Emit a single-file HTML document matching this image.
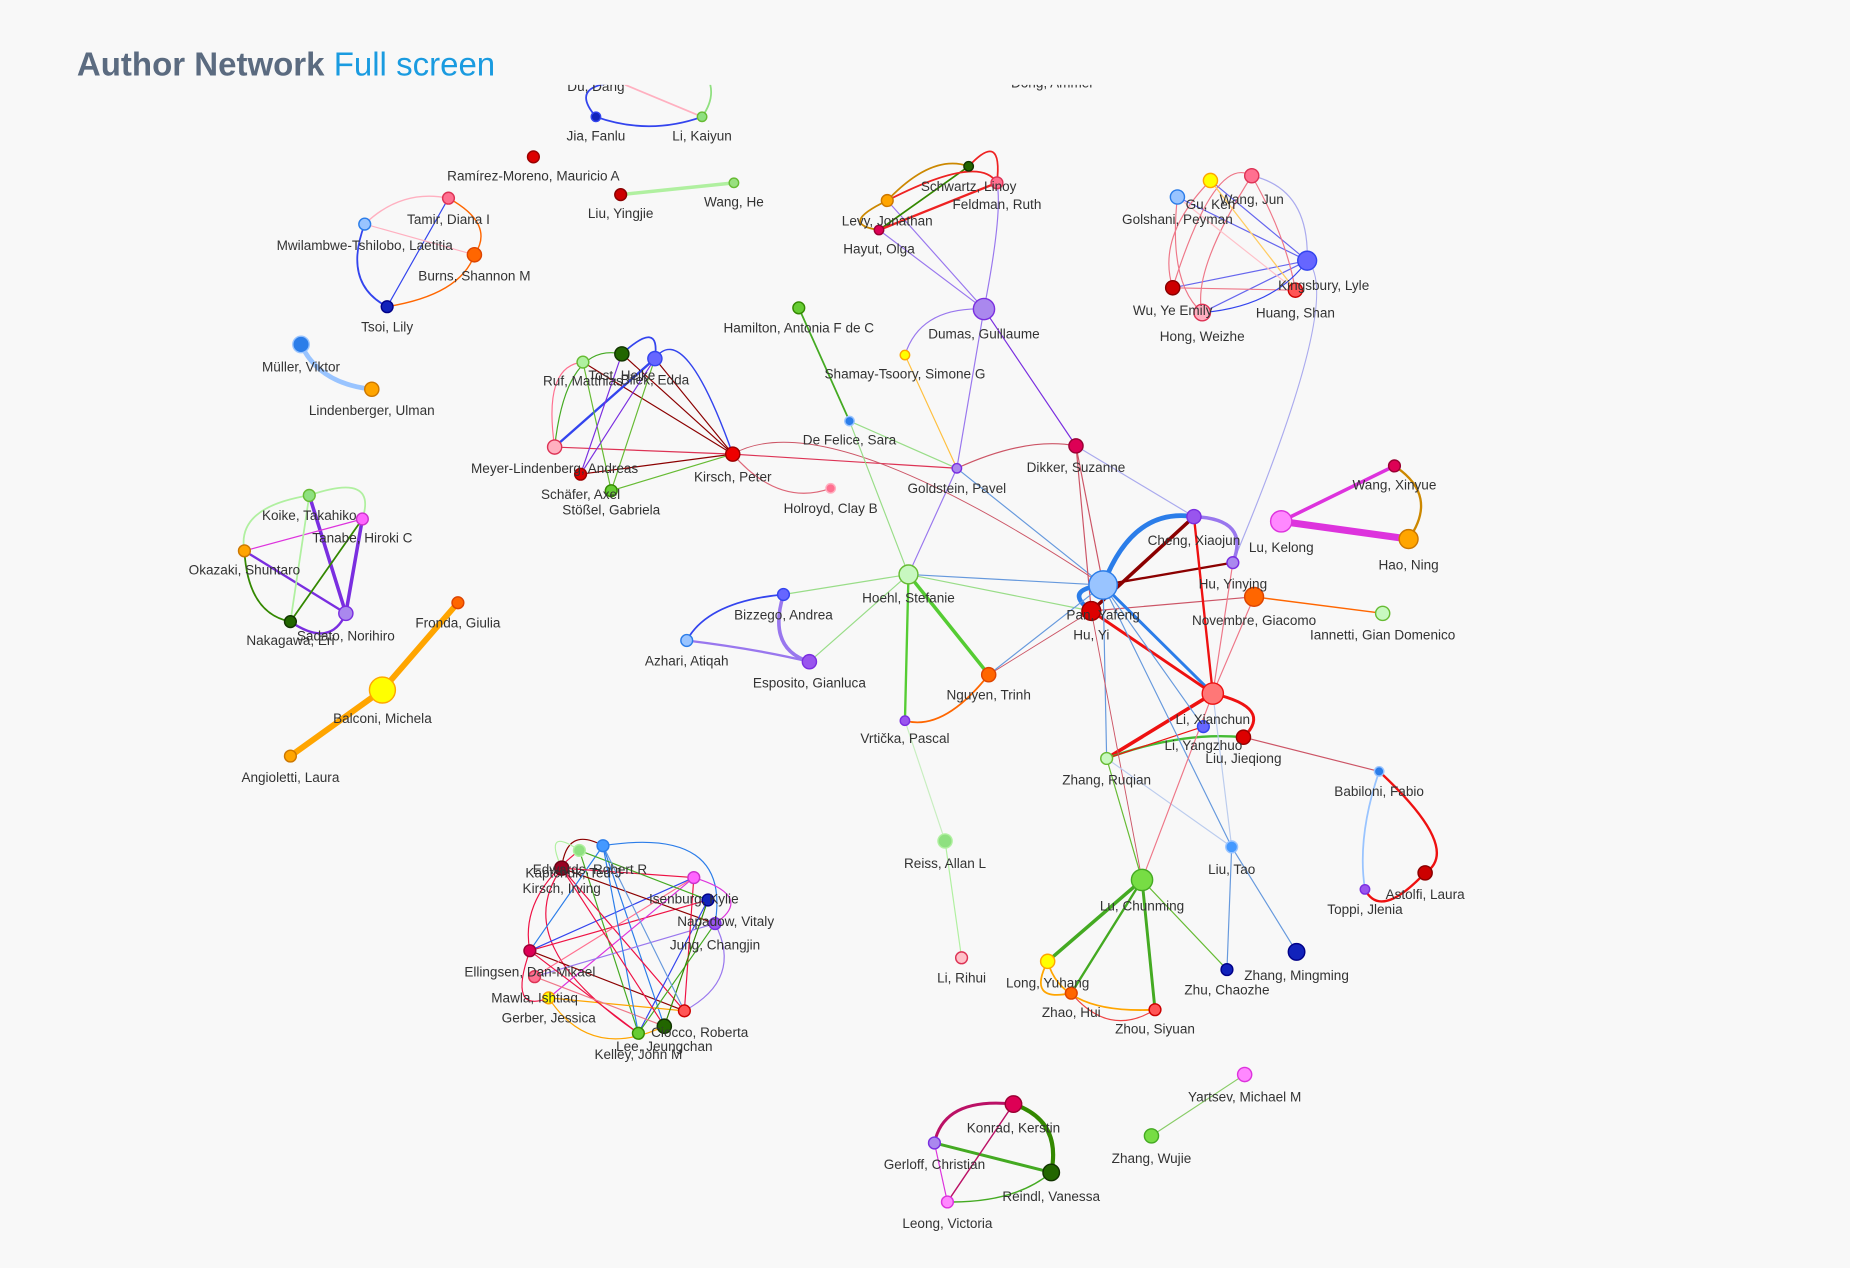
<!DOCTYPE html>
<html><head><meta charset="utf-8"><style>
html,body{margin:0;padding:0;background:#f8f8f8;}
svg{display:block}
text{font-family:"Liberation Sans",sans-serif;font-size:11.5px;fill:#333;text-anchor:middle}
</style></head><body>
<svg width="1850" height="1268" viewBox="0 0 1568 1075" xmlns="http://www.w3.org/2000/svg">
<defs><clipPath id="c"><rect x="0" y="72" width="1568" height="1003"/></clipPath></defs>
<rect width="1568" height="1075" fill="#f8f8f8"/>
<text x="65" y="64" style="font-size:28px;font-weight:bold;fill:#5b6b80;text-anchor:start">Author Network <tspan style="font-weight:normal;fill:#1a9be0">Full screen</tspan></text>
<g clip-path="url(#c)">
<g fill="none" stroke-linecap="round">
<path d="M505,99 Q480,70 530,70" stroke="#3344ee" stroke-width="1.5"/>
<path d="M505,99 Q550,115 595,99" stroke="#3344ee" stroke-width="1.5"/>
<path d="M530,72 L595,99" stroke="#ffb0c0" stroke-width="1.5"/>
<path d="M595,99 Q605,85 602,72" stroke="#90e080" stroke-width="1.5"/>
<path d="M526,165 L622,155" stroke="#b0f0a0" stroke-width="3"/>
<path d="M380,168 Q420,190 402,216" stroke="#ff6600" stroke-width="1.2"/>
<path d="M309,190 Q340,160 380,168" stroke="#ffb0c0" stroke-width="1.2"/>
<path d="M309,190 Q290,240 328,260" stroke="#3344ee" stroke-width="1.5"/>
<path d="M328,260 L380,168" stroke="#3344ee" stroke-width="1"/>
<path d="M328,260 Q390,250 402,216" stroke="#ff6600" stroke-width="1.2"/>
<path d="M309,190 L402,216" stroke="#ffb0c0" stroke-width="1"/>
<path d="M255,292 Q270,325 315,330" stroke="#99c4ff" stroke-width="4"/>
<path d="M262,420 Q320,400 307,440" stroke="#b0f0a0" stroke-width="1.5"/>
<path d="M262,420 Q200,430 207,467" stroke="#b0f0a0" stroke-width="1.5"/>
<path d="M262,420 L293,520" stroke="#7a2ee0" stroke-width="3"/>
<path d="M307,440 L293,520" stroke="#7a2ee0" stroke-width="3"/>
<path d="M207,467 L307,440" stroke="#dd33dd" stroke-width="1"/>
<path d="M207,467 Q210,520 246,527" stroke="#338800" stroke-width="1.5"/>
<path d="M207,467 L293,520" stroke="#7a2ee0" stroke-width="2"/>
<path d="M246,527 L307,440" stroke="#338800" stroke-width="1.5"/>
<path d="M246,527 L262,420" stroke="#b0f0a0" stroke-width="1.5"/>
<path d="M246,527 Q280,550 293,520" stroke="#7a2ee0" stroke-width="2"/>
<path d="M388,511 L324,585 L246,641" stroke="#ffa500" stroke-width="5"/>
<path d="M494,307 L621,385 M527,300 L621,385 M555,304 L621,385" stroke="#8b0000" stroke-width="1"/>
<path d="M555,304 Q560,270 527,300" stroke="#3344ee" stroke-width="1.5"/>
<path d="M470,379 L555,304" stroke="#3344ee" stroke-width="2"/>
<path d="M470,379 Q480,290 527,300" stroke="#44aa22" stroke-width="1"/>
<path d="M470,379 L621,385" stroke="#dd3355" stroke-width="1"/>
<path d="M492,402 L621,385" stroke="#8b0000" stroke-width="1"/>
<path d="M518,416 L555,304 M518,416 L494,307 M518,416 L621,385" stroke="#66bb33" stroke-width="1"/>
<path d="M492,402 L527,300 M492,402 L555,304" stroke="#7a2ee0" stroke-width="1"/>
<path d="M470,379 Q460,310 494,307" stroke="#ff7090" stroke-width="1"/>
<path d="M621,385 Q580,270 555,304" stroke="#3344ee" stroke-width="1.2"/>
<path d="M621,385 L811,397" stroke="#dd3355" stroke-width="1"/>
<path d="M621,385 Q700,340 935,496" stroke="#cc5566" stroke-width="0.8"/>
<path d="M621,385 Q660,430 704,414" stroke="#dd6677" stroke-width="1"/>
<path d="M677,261 L720,357" stroke="#44aa22" stroke-width="1.5"/>
<path d="M720,357 L770,487 M720,357 L811,397" stroke="#99dd88" stroke-width="1"/>
<path d="M767,301 L811,397" stroke="#ffc040" stroke-width="1"/>
<path d="M811,397 L834,262 M811,397 L770,487" stroke="#9977ee" stroke-width="1"/>
<path d="M811,397 L935,496" stroke="#6699dd" stroke-width="1"/>
<path d="M811,397 Q870,370 912,378" stroke="#cc5566" stroke-width="1"/>
<path d="M834,262 L752,170 M834,262 L745,195 M834,262 Q850,180 845,155" stroke="#9977ee" stroke-width="1"/>
<path d="M834,262 Q780,260 767,301" stroke="#9977ee" stroke-width="1"/>
<path d="M834,262 L912,378" stroke="#7a2ee0" stroke-width="1"/>
<path d="M752,170 Q790,130 821,141" stroke="#cc8800" stroke-width="1.5"/>
<path d="M745,195 L821,141" stroke="#338800" stroke-width="1.5"/>
<path d="M745,195 L845,155" stroke="#ee2222" stroke-width="2"/>
<path d="M752,170 Q830,130 845,155" stroke="#ee2222" stroke-width="1.5"/>
<path d="M752,170 Q710,190 745,195" stroke="#cc8800" stroke-width="1.5"/>
<path d="M821,141 Q850,110 845,155" stroke="#ee2222" stroke-width="1.5"/>
<path d="M912,378 L935,496 M912,378 L925,518" stroke="#cc5566" stroke-width="1"/>
<path d="M912,378 L1012,438" stroke="#aaaaee" stroke-width="1"/>
<path d="M998,167 L1108,221 M1026,153 L1108,221 M994,244 L1108,221 M1019,265 L1108,221" stroke="#6666ee" stroke-width="1"/>
<path d="M998,167 Q990,240 1019,265 M1026,153 Q980,200 994,244 M1061,149 Q1010,230 1019,265 M1061,149 Q1090,200 1098,246" stroke="#ee7788" stroke-width="1"/>
<path d="M1026,153 L1098,246 M998,167 L1098,246" stroke="#ffc0c8" stroke-width="1"/>
<path d="M1061,149 Q1110,160 1108,221" stroke="#aaaaee" stroke-width="1"/>
<path d="M994,244 L1098,246 M994,244 Q1030,130 1061,149" stroke="#ee7788" stroke-width="1"/>
<path d="M1026,153 L1098,246" stroke="#ffd060" stroke-width="1"/>
<path d="M1019,265 Q1080,260 1108,221" stroke="#3344ee" stroke-width="1"/>
<path d="M1108,221 Q1140,250 1045,477" stroke="#aaaaee" stroke-width="1"/>
<path d="M1086,442 L1182,395" stroke="#dd33dd" stroke-width="3"/>
<path d="M1086,442 L1194,457" stroke="#dd33dd" stroke-width="6"/>
<path d="M1182,395 Q1220,420 1194,457" stroke="#cc8800" stroke-width="2"/>
<path d="M935,496 Q960,430 1012,438" stroke="#2b7de9" stroke-width="4"/>
<path d="M925,518 L1012,438" stroke="#8b0000" stroke-width="3"/>
<path d="M935,496 L1045,477" stroke="#8b0000" stroke-width="2"/>
<path d="M1012,438 Q1060,440 1045,477" stroke="#9977ee" stroke-width="3"/>
<path d="M935,496 Q900,500 925,518" stroke="#2b7de9" stroke-width="4"/>
<path d="M925,518 L1063,506" stroke="#cc5566" stroke-width="1"/>
<path d="M1063,506 L1172,520" stroke="#ff6600" stroke-width="1.2"/>
<path d="M935,496 L1028,588" stroke="#2b7de9" stroke-width="2.5"/>
<path d="M925,518 L1028,588" stroke="#ee1111" stroke-width="2.5"/>
<path d="M1012,438 L1028,588" stroke="#ee1111" stroke-width="2"/>
<path d="M1045,477 L1028,588 M1063,506 L1028,588" stroke="#ee7788" stroke-width="1"/>
<path d="M1028,588 L938,643" stroke="#ee1111" stroke-width="3"/>
<path d="M1028,588 Q1080,600 1054,625" stroke="#ee1111" stroke-width="2.5"/>
<path d="M938,643 Q1000,620 1054,625" stroke="#44bb33" stroke-width="2"/>
<path d="M938,643 L1020,616" stroke="#ee1111" stroke-width="1"/>
<path d="M935,496 L938,643 M935,496 L1044,718 M935,496 L1020,616" stroke="#6699dd" stroke-width="1"/>
<path d="M925,518 L968,746 M925,518 L838,572" stroke="#cc5566" stroke-width="0.8"/>
<path d="M1054,625 L1169,654" stroke="#cc5566" stroke-width="1"/>
<path d="M1169,654 Q1240,720 1208,740 Q1170,780 1157,754" stroke="#ee1111" stroke-width="2"/>
<path d="M1169,654 Q1150,710 1157,754" stroke="#99c4ff" stroke-width="1.5"/>
<path d="M1044,718 L1099,807 M1044,718 L1040,822" stroke="#6699dd" stroke-width="1"/>
<path d="M1044,718 L938,643" stroke="#bbccee" stroke-width="1"/>
<path d="M1028,588 L1044,718" stroke="#bbccee" stroke-width="1"/>
<path d="M1028,588 L968,746" stroke="#ee7788" stroke-width="1"/>
<path d="M938,643 L968,746" stroke="#66bb33" stroke-width="1"/>
<path d="M968,746 L888,815" stroke="#44aa22" stroke-width="3"/>
<path d="M968,746 L979,856" stroke="#44aa22" stroke-width="2.5"/>
<path d="M968,746 L908,842" stroke="#44aa22" stroke-width="2"/>
<path d="M968,746 L1040,822" stroke="#66bb33" stroke-width="1"/>
<path d="M888,815 Q900,860 979,856" stroke="#ffa500" stroke-width="1.5"/>
<path d="M888,815 Q870,850 908,842" stroke="#ffa500" stroke-width="1.5"/>
<path d="M908,842 Q940,880 979,856" stroke="#ee4444" stroke-width="1"/>
<path d="M770,487 L935,496" stroke="#6699dd" stroke-width="1"/>
<path d="M770,487 L925,518 M770,487 L664,504 M770,487 L686,561" stroke="#99dd88" stroke-width="1"/>
<path d="M770,487 L838,572" stroke="#55cc33" stroke-width="3"/>
<path d="M770,487 L767,611" stroke="#55cc33" stroke-width="2"/>
<path d="M664,504 Q600,510 582,543" stroke="#3344ee" stroke-width="1.5"/>
<path d="M582,543 Q640,550 686,561" stroke="#9977ee" stroke-width="2"/>
<path d="M664,504 Q650,550 686,561" stroke="#9977ee" stroke-width="3"/>
<path d="M838,572 Q800,620 767,611" stroke="#ff6600" stroke-width="1.5"/>
<path d="M838,572 L935,496" stroke="#6699dd" stroke-width="1"/>
<path d="M767,611 L801,713" stroke="#c8eec0" stroke-width="1"/>
<path d="M801,713 L815,812" stroke="#b0f0a0" stroke-width="1"/>
<g stroke-width="1">
<path d="M476,736 Q430,800 541,876" stroke="#ee1144"/>
<path d="M449,806 L600,763" stroke="#ee1144"/>
<path d="M449,806 L588,744" stroke="#3344ee"/>
<path d="M449,806 L580,857" stroke="#8b0000"/>
<path d="M491,721 L541,876" stroke="#44aa22"/>
<path d="M511,717 L563,870" stroke="#2b7de9"/>
<path d="M511,717 Q620,700 606,783" stroke="#2b7de9"/>
<path d="M476,736 L606,783" stroke="#8b0000"/>
<path d="M476,736 L580,857" stroke="#ee1144"/>
<path d="M588,744 L465,846" stroke="#dd33dd"/>
<path d="M600,763 L541,876" stroke="#3344ee"/>
<path d="M606,783 L453,828" stroke="#9977ee"/>
<path d="M465,846 L580,857" stroke="#ffa500"/>
<path d="M465,846 Q500,900 563,870" stroke="#ffa500"/>
<path d="M453,828 L588,744" stroke="#ff7090"/>
<path d="M491,721 Q440,760 449,806" stroke="#ee1144"/>
<path d="M511,717 L449,806" stroke="#2b7de9"/>
<path d="M580,857 L588,744" stroke="#ee1144"/>
<path d="M541,876 L606,783" stroke="#44aa22"/>
<path d="M563,870 L600,763" stroke="#338800"/>
<path d="M476,736 L588,744" stroke="#ee1144"/>
<path d="M491,721 L600,763" stroke="#44aa22"/>
<path d="M449,806 L541,876" stroke="#ee1144"/>
<path d="M453,828 L563,870" stroke="#ee7788"/>
<path d="M511,717 L541,876" stroke="#2b7de9"/>
<path d="M476,736 Q480,700 511,717" stroke="#8b0000"/>
<path d="M606,783 Q630,830 580,857" stroke="#9977ee"/>
<path d="M588,744 Q640,760 606,783" stroke="#dd33dd"/>
<path d="M491,721 Q460,700 476,736" stroke="#b0f0a0"/>
<path d="M449,806 Q430,860 465,846" stroke="#ee1144"/>
<path d="M476,736 L563,870" stroke="#ee1144"/>
<path d="M511,717 L580,857" stroke="#6699dd"/>
</g>
<path d="M792,969 Q800,930 859,936" stroke="#bb1166" stroke-width="2.5"/>
<path d="M859,936 Q900,950 891,994" stroke="#338800" stroke-width="3.5"/>
<path d="M792,969 L891,994" stroke="#44aa22" stroke-width="2.5"/>
<path d="M803,1019 L859,936" stroke="#bb1166" stroke-width="1.2"/>
<path d="M803,1019 Q860,1020 891,994" stroke="#44aa22" stroke-width="1.2"/>
<path d="M792,969 L803,1019" stroke="#dd33dd" stroke-width="1"/>
<path d="M976,963 L1055,911" stroke="#88cc66" stroke-width="1"/>
</g>
<g stroke-width="1.2">
<circle cx="505" cy="99" r="4" fill="#1122bb" stroke="#3344ee"/>
<circle cx="595" cy="99" r="4" fill="#8ee080" stroke="#66bb33"/>
<circle cx="452" cy="133" r="5" fill="#dd0000" stroke="#990000"/>
<circle cx="526" cy="165" r="5" fill="#cc0000" stroke="#880000"/>
<circle cx="622" cy="155" r="4" fill="#99e080" stroke="#66bb33"/>
<circle cx="380" cy="168" r="5" fill="#ff7090" stroke="#dd3355"/>
<circle cx="309" cy="190" r="5" fill="#99c4ff" stroke="#2b7de9"/>
<circle cx="402" cy="216" r="6" fill="#ff6600" stroke="#dd4400"/>
<circle cx="328" cy="260" r="5" fill="#1122bb" stroke="#000088"/>
<circle cx="255" cy="292" r="7" fill="#2b7de9" stroke="#99c4ff"/>
<circle cx="315" cy="330" r="6" fill="#ffa500" stroke="#cc7700"/>
<circle cx="262" cy="420" r="5" fill="#8ee080" stroke="#66bb33"/>
<circle cx="307" cy="440" r="5" fill="#ff66ff" stroke="#cc33cc"/>
<circle cx="207" cy="467" r="5" fill="#ffa500" stroke="#cc7700"/>
<circle cx="246" cy="527" r="5" fill="#226600" stroke="#113300"/>
<circle cx="293" cy="520" r="6" fill="#aa88ee" stroke="#7a2ee0"/>
<circle cx="388" cy="511" r="5" fill="#ff6600" stroke="#dd4400"/>
<circle cx="324" cy="585" r="11" fill="#ffff00" stroke="#ffa500"/>
<circle cx="246" cy="641" r="5" fill="#ffa500" stroke="#cc7700"/>
<circle cx="494" cy="307" r="5" fill="#b0f0a0" stroke="#66bb33"/>
<circle cx="527" cy="300" r="6" fill="#226600" stroke="#113300"/>
<circle cx="555" cy="304" r="6" fill="#6666ff" stroke="#3344ee"/>
<circle cx="470" cy="379" r="6" fill="#ffb0c0" stroke="#dd3355"/>
<circle cx="492" cy="402" r="5" fill="#dd0000" stroke="#990000"/>
<circle cx="518" cy="416" r="5" fill="#66cc33" stroke="#338800"/>
<circle cx="621" cy="385" r="6" fill="#ee0000" stroke="#990000"/>
<circle cx="677" cy="261" r="5" fill="#66cc33" stroke="#338800"/>
<circle cx="720" cy="357" r="4" fill="#2b7de9" stroke="#99c4ff"/>
<circle cx="704" cy="414" r="4" fill="#ff7090" stroke="#ffb0c0"/>
<circle cx="811" cy="397" r="4" fill="#aa88ee" stroke="#7a2ee0"/>
<circle cx="767" cy="301" r="4" fill="#ffff00" stroke="#ffa500"/>
<circle cx="821" cy="141" r="4" fill="#226600" stroke="#113300"/>
<circle cx="845" cy="155" r="5" fill="#ff7090" stroke="#dd3355"/>
<circle cx="752" cy="170" r="5" fill="#ffa500" stroke="#cc7700"/>
<circle cx="745" cy="195" r="4" fill="#dd0055" stroke="#990033"/>
<circle cx="834" cy="262" r="9" fill="#aa88ee" stroke="#7a2ee0"/>
<circle cx="998" cy="167" r="6" fill="#99c4ff" stroke="#2b7de9"/>
<circle cx="1026" cy="153" r="6" fill="#ffff00" stroke="#ffa500"/>
<circle cx="1061" cy="149" r="6" fill="#ff7090" stroke="#dd3355"/>
<circle cx="1108" cy="221" r="8" fill="#6666ff" stroke="#3344ee"/>
<circle cx="994" cy="244" r="6" fill="#cc0000" stroke="#880000"/>
<circle cx="1019" cy="265" r="7" fill="#ffb0c0" stroke="#dd3355"/>
<circle cx="1098" cy="246" r="6" fill="#ff5555" stroke="#cc0000"/>
<circle cx="912" cy="378" r="6" fill="#dd0055" stroke="#990033"/>
<circle cx="1012" cy="438" r="6" fill="#9955ee" stroke="#7a2ee0"/>
<circle cx="1086" cy="442" r="9" fill="#ff88ff" stroke="#dd33dd"/>
<circle cx="1182" cy="395" r="5" fill="#dd0055" stroke="#990033"/>
<circle cx="1194" cy="457" r="8" fill="#ffa500" stroke="#cc7700"/>
<circle cx="1045" cy="477" r="5" fill="#aa88ee" stroke="#7a2ee0"/>
<circle cx="1063" cy="506" r="8" fill="#ff6600" stroke="#dd4400"/>
<circle cx="1172" cy="520" r="6" fill="#c8f8c0" stroke="#66bb33"/>
<circle cx="935" cy="496" r="12" fill="#99c4ff" stroke="#2b7de9"/>
<circle cx="925" cy="518" r="8" fill="#dd0000" stroke="#990000"/>
<circle cx="770" cy="487" r="8" fill="#c8f8c0" stroke="#66bb33"/>
<circle cx="664" cy="504" r="5" fill="#6666ff" stroke="#3344ee"/>
<circle cx="582" cy="543" r="5" fill="#99c4ff" stroke="#2b7de9"/>
<circle cx="686" cy="561" r="6" fill="#9955ee" stroke="#7a2ee0"/>
<circle cx="838" cy="572" r="6" fill="#ff6600" stroke="#dd4400"/>
<circle cx="767" cy="611" r="4" fill="#9955ee" stroke="#7a2ee0"/>
<circle cx="1028" cy="588" r="9" fill="#ff7777" stroke="#ee1111"/>
<circle cx="1020" cy="616" r="5" fill="#6666ff" stroke="#3344ee"/>
<circle cx="1054" cy="625" r="6" fill="#dd0000" stroke="#990000"/>
<circle cx="938" cy="643" r="5" fill="#c8f8c0" stroke="#66bb33"/>
<circle cx="1169" cy="654" r="4" fill="#2b7de9" stroke="#99c4ff"/>
<circle cx="1157" cy="754" r="4" fill="#9955ee" stroke="#7a2ee0"/>
<circle cx="1208" cy="740" r="6" fill="#cc0000" stroke="#880000"/>
<circle cx="1044" cy="718" r="5" fill="#4499ff" stroke="#99c4ff"/>
<circle cx="1099" cy="807" r="7" fill="#1122bb" stroke="#000088"/>
<circle cx="1040" cy="822" r="5" fill="#1122bb" stroke="#000088"/>
<circle cx="968" cy="746" r="9" fill="#77dd44" stroke="#44aa22"/>
<circle cx="888" cy="815" r="6" fill="#ffff00" stroke="#ffa500"/>
<circle cx="908" cy="842" r="5" fill="#ff6600" stroke="#dd4400"/>
<circle cx="979" cy="856" r="5" fill="#ff5555" stroke="#cc0000"/>
<circle cx="801" cy="713" r="6" fill="#8ee080" stroke="#b0f0a0"/>
<circle cx="815" cy="812" r="5" fill="#ffc0c8" stroke="#dd3355"/>
<circle cx="491" cy="721" r="5" fill="#8ee080" stroke="#b0f0a0"/>
<circle cx="476" cy="736" r="6" fill="#990022" stroke="#660011"/>
<circle cx="511" cy="717" r="5" fill="#4499ff" stroke="#2b7de9"/>
<circle cx="588" cy="744" r="5" fill="#ff66ff" stroke="#cc33cc"/>
<circle cx="600" cy="763" r="5" fill="#1122bb" stroke="#000088"/>
<circle cx="606" cy="783" r="5" fill="#9955ee" stroke="#7a2ee0"/>
<circle cx="449" cy="806" r="5" fill="#dd0055" stroke="#990033"/>
<circle cx="453" cy="828" r="5" fill="#ff7090" stroke="#dd3355"/>
<circle cx="465" cy="846" r="5" fill="#ffff00" stroke="#ffa500"/>
<circle cx="541" cy="876" r="5" fill="#66cc33" stroke="#338800"/>
<circle cx="563" cy="870" r="6" fill="#226600" stroke="#113300"/>
<circle cx="580" cy="857" r="5" fill="#ff5555" stroke="#cc0000"/>
<circle cx="859" cy="936" r="7" fill="#dd0055" stroke="#990033"/>
<circle cx="792" cy="969" r="5" fill="#aa88ee" stroke="#7a2ee0"/>
<circle cx="891" cy="994" r="7" fill="#226600" stroke="#113300"/>
<circle cx="803" cy="1019" r="5" fill="#ff88ff" stroke="#dd33dd"/>
<circle cx="1055" cy="911" r="6" fill="#ff88ff" stroke="#dd33dd"/>
<circle cx="976" cy="963" r="6" fill="#77dd44" stroke="#44aa22"/>
</g>
<g>
<text x="505" y="77">Du, Dang</text><text x="892" y="74">Dong, Ammer</text>
<text x="505" y="119">Jia, Fanlu</text><text x="595" y="119">Li, Kaiyun</text>
<text x="452" y="153">Ramírez-Moreno, Mauricio A</text>
<text x="526" y="185">Liu, Yingjie</text><text x="622" y="175">Wang, He</text>
<text x="380" y="190">Tamir, Diana I</text><text x="309" y="212">Mwilambwe-Tshilobo, Laetitia</text>
<text x="402" y="238">Burns, Shannon M</text><text x="328" y="281">Tsoi, Lily</text>
<text x="255" y="315">Müller, Viktor</text><text x="315" y="352">Lindenberger, Ulman</text>
<text x="262" y="441">Koike, Takahiko</text><text x="307" y="460">Tanabe, Hiroki C</text>
<text x="207" y="487">Okazaki, Shuntaro</text><text x="246" y="547">Nakagawa, Eri</text><text x="293" y="543">Sadato, Norihiro</text>
<text x="388" y="532">Fronda, Giulia</text><text x="324" y="613">Balconi, Michela</text><text x="246" y="663">Angioletti, Laura</text>
<text x="494" y="327">Ruf, Matthias</text><text x="527" y="322">Tost, Heike</text><text x="555" y="326">Bilek, Edda</text>
<text x="470" y="401">Meyer-Lindenberg, Andreas</text><text x="492" y="423">Schäfer, Axel</text><text x="518" y="436">Stößel, Gabriela</text>
<text x="621" y="408">Kirsch, Peter</text>
<text x="677" y="282">Hamilton, Antonia F de C</text><text x="720" y="377">De Felice, Sara</text>
<text x="704" y="435">Holroyd, Clay B</text><text x="811" y="418">Goldstein, Pavel</text><text x="767" y="321">Shamay-Tsoory, Simone G</text>
<text x="821" y="162">Schwartz, Linoy</text><text x="845" y="177">Feldman, Ruth</text><text x="752" y="191">Levy, Jonathan</text>
<text x="745" y="215">Hayut, Olga</text><text x="834" y="287">Dumas, Guillaume</text>
<text x="998" y="190">Golshani, Peyman</text><text x="1026" y="177">Gu, Ken</text><text x="1061" y="173">Wang, Jun</text>
<text x="1122" y="246">Kingsbury, Lyle</text><text x="994" y="267">Wu, Ye Emily</text><text x="1019" y="289">Hong, Weizhe</text><text x="1098" y="269">Huang, Shan</text>
<text x="912" y="400">Dikker, Suzanne</text>
<text x="1012" y="462">Cheng, Xiaojun</text><text x="1086" y="468">Lu, Kelong</text><text x="1182" y="415">Wang, Xinyue</text><text x="1194" y="483">Hao, Ning</text>
<text x="1045" y="499">Hu, Yinying</text><text x="1063" y="530">Novembre, Giacomo</text><text x="1172" y="542">Iannetti, Gian Domenico</text>
<text x="935" y="525">Pan, Yafeng</text><text x="925" y="542">Hu, Yi</text>
<text x="770" y="511">Hoehl, Stefanie</text><text x="664" y="525">Bizzego, Andrea</text><text x="582" y="564">Azhari, Atiqah</text>
<text x="686" y="583">Esposito, Gianluca</text><text x="838" y="593">Nguyen, Trinh</text><text x="767" y="630">Vrtička, Pascal</text>
<text x="1028" y="614">Li, Xianchun</text><text x="1020" y="636">Li, Yangzhuo</text><text x="1054" y="647">Liu, Jieqiong</text><text x="938" y="665">Zhang, Ruqian</text>
<text x="1169" y="675">Babiloni, Fabio</text><text x="1157" y="775">Toppi, Jlenia</text><text x="1208" y="762">Astolfi, Laura</text>
<text x="1044" y="741">Liu, Tao</text><text x="1099" y="831">Zhang, Mingming</text><text x="1040" y="843">Zhu, Chaozhe</text>
<text x="968" y="772">Lu, Chunming</text><text x="888" y="837">Long, Yuhang</text><text x="908" y="862">Zhao, Hui</text><text x="979" y="876">Zhou, Siyuan</text>
<text x="801" y="736">Reiss, Allan L</text><text x="815" y="833">Li, Rihui</text>
<text x="500" y="741">Edwards, Robert R</text><text x="486" y="744">Kaptchuk, Ted J</text><text x="476" y="757">Kirsch, Irving</text>
<text x="588" y="766">Isenburg, Kylie</text><text x="615" y="785">Napadow, Vitaly</text><text x="606" y="805">Jung, Changjin</text>
<text x="449" y="828">Ellingsen, Dan-Mikael</text><text x="453" y="850">Mawla, Ishtiaq</text><text x="465" y="867">Gerber, Jessica</text>
<text x="541" y="898">Kelley, John M</text><text x="563" y="891">Lee, Jeungchan</text><text x="593" y="879">Ciocco, Roberta</text>
<text x="859" y="960">Konrad, Kerstin</text><text x="792" y="991">Gerloff, Christian</text><text x="891" y="1018">Reindl, Vanessa</text><text x="803" y="1041">Leong, Victoria</text>
<text x="1055" y="934">Yartsev, Michael M</text><text x="976" y="986">Zhang, Wujie</text>
</g>
</g>
</svg>
</body></html>
